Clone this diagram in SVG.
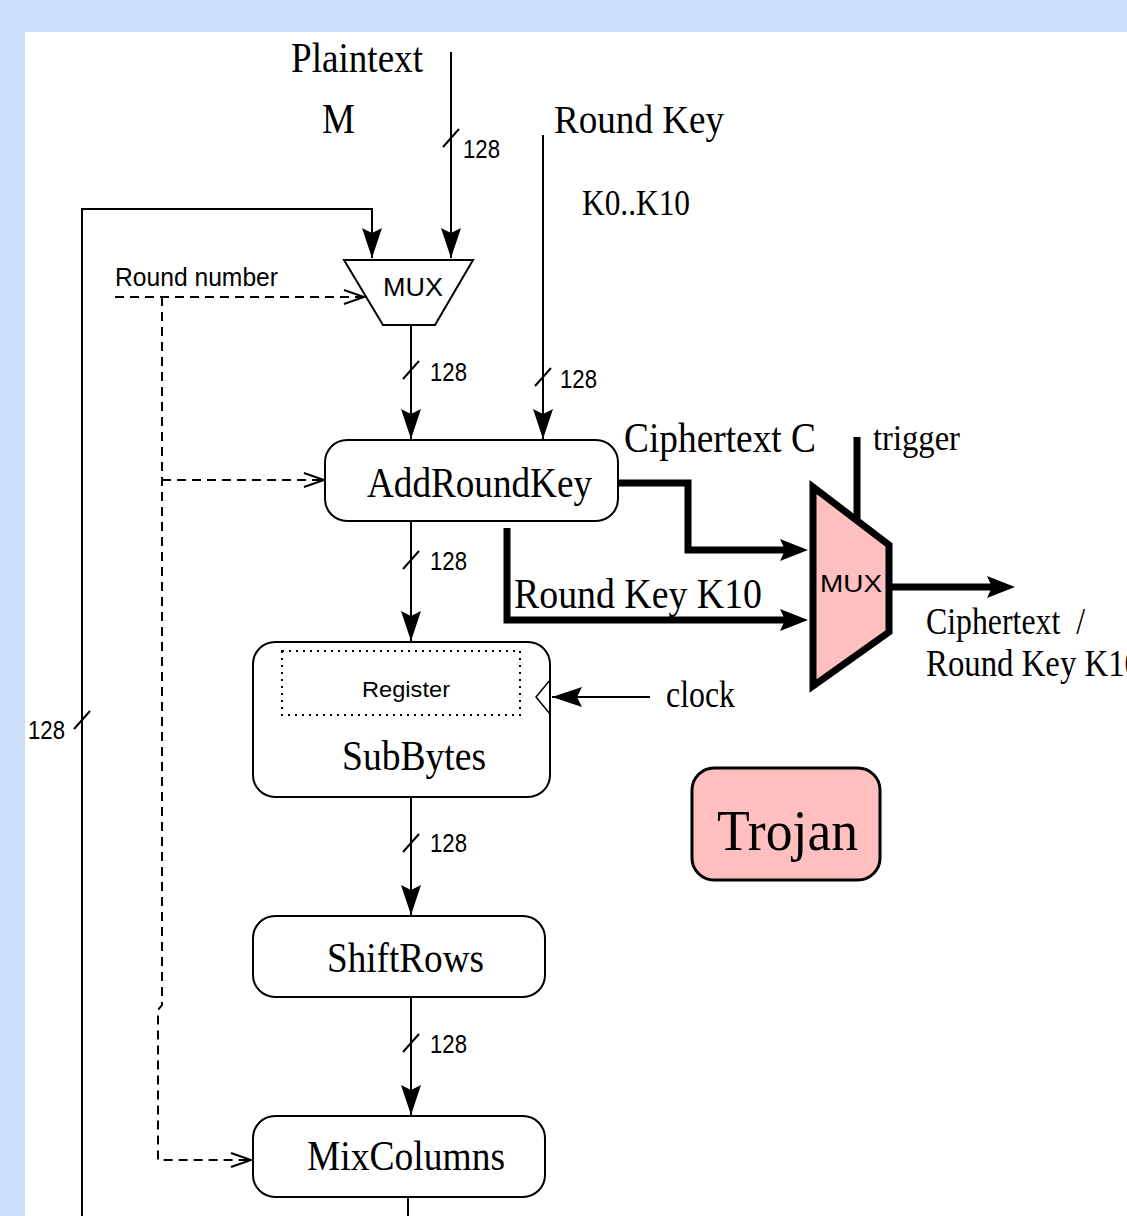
<svg xmlns="http://www.w3.org/2000/svg" width="1127" height="1216" viewBox="0 0 1127 1216">
<defs>
<style>
.ln{fill:none;stroke:#000;stroke-width:2}
.thk{fill:none;stroke:#000;stroke-width:7}
.dsh{fill:none;stroke:#000;stroke-width:2;stroke-dasharray:9 6}
.box{fill:#fff;stroke:#000;stroke-width:2}
.ser{font-family:"Liberation Serif","Times New Roman",serif;fill:#000}
.san{font-family:"Liberation Sans",Arial,sans-serif;fill:#000}
</style>
<marker id="ah" markerUnits="userSpaceOnUse" markerWidth="32" markerHeight="22" viewBox="-1 -11 32 22" refX="30" refY="0" orient="auto"><path d="M0,-10 L30,0 L0,10 L5,0 Z" fill="#000"/></marker>
<marker id="ahk" markerUnits="userSpaceOnUse" markerWidth="32" markerHeight="26" viewBox="-1 -13 32 26" refX="10" refY="0" orient="auto"><path d="M0,-11 L28,0 L0,11 L5,0 Z" fill="#000"/></marker>
<marker id="ao" markerUnits="userSpaceOnUse" markerWidth="24" markerHeight="18" viewBox="-1 -9 24 18" refX="20" refY="0" orient="auto"><path d="M0,-7 L20,0 L0,7" fill="none" stroke="#000" stroke-width="2"/></marker>
</defs>
<rect x="0" y="0" width="1127" height="1216" fill="#cbdffb"/>
<rect x="25" y="32" width="1102" height="1184" fill="#fff"/>

<g id="connectors">
<path class="ln" d="M82,1216 V209 H372 V258" marker-end="url(#ah)"/>
<path class="ln" d="M451,52 V258" marker-end="url(#ah)"/>
<path class="ln" d="M543,135 V439" marker-end="url(#ah)"/>
<path class="ln" d="M411,325 V439" marker-end="url(#ah)"/>
<path class="ln" d="M411,521 V641" marker-end="url(#ah)"/>
<path class="ln" d="M411,797 V915" marker-end="url(#ah)"/>
<path class="ln" d="M411,997 V1115" marker-end="url(#ah)"/>
<path class="ln" d="M408,1197 V1216"/>
<path class="ln" d="M650,697 H552" marker-end="url(#ah)"/>
<path class="ln" d="M443,147 L459,129 M403,379 L419,361 M535,386 L551,368 M403,569 L419,551 M403,852 L419,834 M403,1052 L419,1034 M74,729 L90,711"/>
<path class="dsh" d="M115,297 H364" marker-end="url(#ao)"/>
<path class="dsh" d="M162,297 V1005 L158,1010 V1160 H251" marker-end="url(#ao)"/>
<path class="dsh" d="M162,480 H324" marker-end="url(#ao)"/>
<path class="thk" d="M618,483 H688 V550 H790" marker-end="url(#ahk)"/>
<path class="thk" d="M507,528 V620 H790" marker-end="url(#ahk)"/>
<path class="thk" d="M857,437 V521"/>
<path class="thk" d="M889,587 H997" marker-end="url(#ahk)"/>
</g>

<g id="labels">
<text class="ser" x="291" y="72" font-size="42" textLength="132" lengthAdjust="spacingAndGlyphs">Plaintext</text>
<text class="ser" x="322" y="133" font-size="42" textLength="33" lengthAdjust="spacingAndGlyphs">M</text>
<text class="ser" x="554" y="133" font-size="40" textLength="170" lengthAdjust="spacingAndGlyphs">Round Key</text>
<text class="ser" x="582" y="215" font-size="36" textLength="108" lengthAdjust="spacingAndGlyphs">K0..K10</text>
<text class="san" x="115" y="286" font-size="25" textLength="163" lengthAdjust="spacingAndGlyphs">Round number</text>
<text class="san" x="463" y="158" font-size="26" textLength="37" lengthAdjust="spacingAndGlyphs">128</text>
<text class="san" x="430" y="381" font-size="26" textLength="37" lengthAdjust="spacingAndGlyphs">128</text>
<text class="san" x="560" y="388" font-size="26" textLength="37" lengthAdjust="spacingAndGlyphs">128</text>
<text class="san" x="430" y="570" font-size="26" textLength="37" lengthAdjust="spacingAndGlyphs">128</text>
<text class="san" x="430" y="852" font-size="26" textLength="37" lengthAdjust="spacingAndGlyphs">128</text>
<text class="san" x="430" y="1053" font-size="26" textLength="37" lengthAdjust="spacingAndGlyphs">128</text>
<text class="san" x="28" y="739" font-size="26" textLength="37" lengthAdjust="spacingAndGlyphs">128</text>
<text class="ser" x="624" y="452" font-size="42" textLength="192" lengthAdjust="spacingAndGlyphs">Ciphertext C</text>
<text class="ser" x="873" y="450" font-size="36" textLength="87" lengthAdjust="spacingAndGlyphs">trigger</text>
<text class="ser" x="514" y="608" font-size="42" textLength="248" lengthAdjust="spacingAndGlyphs">Round Key K10</text>
<text class="ser" x="926" y="634" font-size="38" textLength="159" lengthAdjust="spacingAndGlyphs" xml:space="preserve">Ciphertext  /</text>
<text class="ser" x="926" y="676" font-size="38" textLength="215" lengthAdjust="spacingAndGlyphs">Round Key K10</text>
<text class="ser" x="666" y="707" font-size="38" textLength="69" lengthAdjust="spacingAndGlyphs">clock</text>
</g>

<g id="mux1">
<polygon class="box" points="344,260 473,260 435,325 383,325"/>
<text class="san" x="383" y="296" font-size="26" textLength="60" lengthAdjust="spacingAndGlyphs">MUX</text>
</g>

<g id="addroundkey">
<rect class="box" x="325" y="440" width="293" height="81" rx="22"/>
<text class="ser" x="367" y="497" font-size="42" textLength="225" lengthAdjust="spacingAndGlyphs">AddRoundKey</text>
</g>

<g id="trojanmux">
<polygon points="813,487 889,545 889,632 813,686" fill="#ffbfbf" stroke="#000" stroke-width="7" stroke-linejoin="miter"/>
<text class="san" x="820" y="592" font-size="24" textLength="62" lengthAdjust="spacingAndGlyphs">MUX</text>
</g>

<g id="subbytes">
<rect class="box" x="253" y="642" width="297" height="155" rx="22"/>
<rect x="282" y="651" width="238" height="64" fill="none" stroke="#000" stroke-width="2" stroke-dasharray="2 5"/>
<text class="san" x="362" y="697" font-size="22" textLength="88" lengthAdjust="spacingAndGlyphs">Register</text>
<polyline points="550,680 536,697 550,714" fill="none" stroke="#000" stroke-width="1.5"/>
<text class="ser" x="342" y="770" font-size="42" textLength="144" lengthAdjust="spacingAndGlyphs">SubBytes</text>
</g>

<g id="shiftrows">
<rect class="box" x="253" y="916" width="292" height="81" rx="22"/>
<text class="ser" x="327" y="972" font-size="42" textLength="157" lengthAdjust="spacingAndGlyphs">ShiftRows</text>
</g>

<g id="mixcolumns">
<rect class="box" x="253" y="1116" width="292" height="81" rx="22"/>
<text class="ser" x="307" y="1170" font-size="42" textLength="198" lengthAdjust="spacingAndGlyphs">MixColumns</text>
</g>

<g id="trojan">
<rect x="692" y="768" width="188" height="112" rx="22" fill="#ffbfbf" stroke="#000" stroke-width="3"/>
<text class="ser" x="717" y="850" font-size="58" textLength="141" lengthAdjust="spacingAndGlyphs">Trojan</text>
</g>
</svg>
